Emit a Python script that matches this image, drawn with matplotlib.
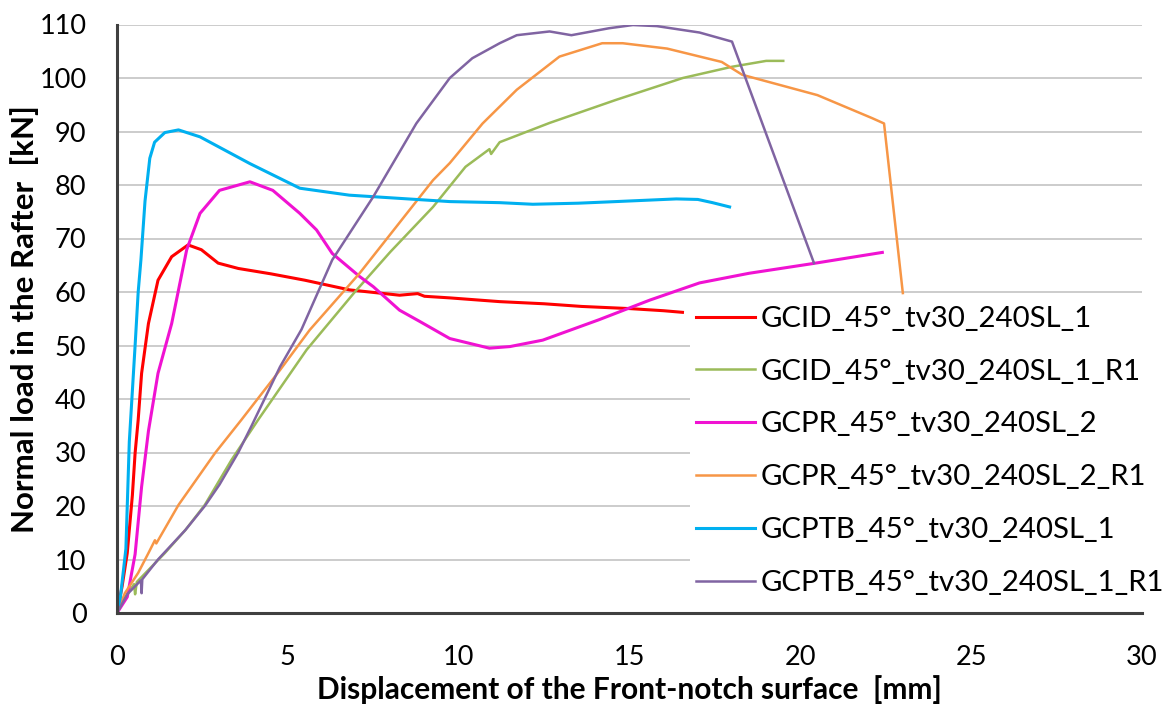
import matplotlib
matplotlib.use("Agg")
import matplotlib.pyplot as plt

plt.rcParams['font.family'] = ['Lato', 'DejaVu Sans']

# ---- data ----
red_x = [0, 0.15, 0.3, 0.45, 0.53, 0.62, 0.72, 0.92, 1.2, 1.6, 2.08, 2.47, 2.96, 3.55, 4.5, 5.5, 6.8, 8.27, 8.8, 9.0, 9.74, 11.2, 12.5, 13.6, 15.0, 16.0, 16.55]
red_y = [0, 5, 11.2, 22, 29.9, 36.1, 44.8, 54.1, 62.2, 66.6, 68.8, 67.9, 65.4, 64.4, 63.4, 62.2, 60.4, 59.4, 59.7, 59.2, 58.9, 58.2, 57.8, 57.3, 56.9, 56.5, 56.2]

green_x = [0, 0.3, 0.5, 0.53, 0.58, 1.4, 2.0, 2.57, 3.35, 4.13, 4.77, 5.55, 6.96, 8.0, 9.25, 10.2, 10.9, 10.95, 11.2, 12.66, 14.6, 16.56, 18.0, 19.0, 19.5]
green_y = [0, 3.5, 5.4, 3.5, 5.8, 11.2, 15.5, 20.2, 28.6, 36.1, 42, 49.2, 60, 67.5, 75.9, 83.4, 86.7, 85.8, 88, 91.6, 95.9, 100, 102.1, 103.2, 103.2]

pink_x = [0, 0.3, 0.53, 0.72, 0.92, 1.2, 1.6, 2.04, 2.43, 3.0, 3.89, 4.56, 5.35, 5.84, 6.3, 7.1, 7.5, 8.27, 8.86, 9.74, 10.9, 11.5, 12.46, 14.1, 15.6, 17.05, 18.5, 20.35, 22.4]
pink_y = [0, 3, 11, 23.6, 34, 44.8, 54.1, 67.9, 74.7, 79, 80.6, 79, 74.7, 71.6, 67.2, 62.9, 61, 56.6, 54.5, 51.3, 49.5, 49.8, 51, 54.8, 58.5, 61.7, 63.5, 65.3, 67.4]

orange_x = [0, 0.23, 0.62, 0.92, 1.11, 1.15, 1.8, 2.87, 3.64, 4.77, 5.64, 7.1, 9.25, 9.74, 10.7, 11.7, 12.95, 14.2, 14.8, 16.1, 17.7, 18.3, 20.5, 22.1, 22.45, 23.0]
orange_y = [0, 3.7, 7.5, 11.2, 13.6, 13.0, 20.2, 29.9, 36.1, 45.4, 52.9, 63.5, 80.9, 84.1, 91.5, 97.8, 104, 106.5, 106.5, 105.5, 103, 100.6, 96.8, 92.5, 91.5, 59.8]

cyan_x = [0, 0.1, 0.26, 0.36, 0.53, 0.62, 0.7, 0.82, 0.96, 1.1, 1.4, 1.8, 2.43, 3.89, 5.35, 6.8, 8.27, 9.74, 11.2, 12.17, 13.5, 14.6, 16.37, 17.0, 17.43, 17.93]
cyan_y = [0, 3, 12, 32, 50, 60, 66, 77, 85, 88, 89.8, 90.3, 89, 84, 79.4, 78.1, 77.5, 76.9, 76.7, 76.4, 76.6, 76.9, 77.4, 77.3, 76.7, 75.9]

purple_x = [0, 0.3, 0.7, 0.72, 0.74, 1.2, 2.0, 2.57, 3.0, 3.55, 3.94, 4.77, 5.4, 6.3, 7.5, 8.76, 9.74, 10.4, 11.2, 11.7, 12.66, 13.3, 14.4, 15.1, 15.8, 17.05, 18.0, 20.4]
purple_y = [0, 3.5, 6.1, 3.7, 6.3, 10, 15.5, 20, 24, 30, 35, 46, 53, 66, 77.8, 91.5, 100, 103.7, 106.5, 108, 108.7, 108, 109.3, 109.9, 109.7, 108.5, 106.8, 65.4]

labels = ["GCID_45°_tv30_240SL_1", "GCID_45°_tv30_240SL_1_R1", "GCPR_45°_tv30_240SL_2",
          "GCPR_45°_tv30_240SL_2_R1", "GCPTB_45°_tv30_240SL_1", "GCPTB_45°_tv30_240SL_1_R1"]
xticks = [0, 5, 10, 15, 20, 25, 30]
yticks = [0, 10, 20, 30, 40, 50, 60, 70, 80, 90, 100, 110]

W, H = 1173, 715
fig = plt.figure(figsize=(W / 100, H / 100), dpi=100)
ax = fig.add_axes([117 / W, 1 - 613 / H, (1142 - 117) / W, (613 - 24.5) / H])

series = [
    (red_x, red_y, "#FF0000", 2.2),
    (green_x, green_y, "#9BBB59", 1.8),
    (pink_x, pink_y, "#F012D2", 2.2),
    (orange_x, orange_y, "#F79646", 1.8),
    (cyan_x, cyan_y, "#00B0F0", 2.2),
    (purple_x, purple_y, "#8064A2", 1.8),
]
for (xs, ys, c, lw), lab in zip(series, labels):
    ax.plot(xs, ys, color=c, lw=lw, label=lab, solid_joinstyle='round')

ax.set_xlim(0, 30)
ax.set_ylim(0, 110)
ax.set_xticks(xticks)
ax.set_yticks(yticks)
ax.grid(axis='y', color='#BFBFBF', lw=1.1)
ax.set_axisbelow(True)
for s in ['top', 'right']:
    ax.spines[s].set_visible(False)
for s in ['left', 'bottom']:
    ax.spines[s].set_color('#404040')
    ax.spines[s].set_linewidth(2.2)
ax.tick_params(axis='both', length=0, labelsize=19.5, colors='#000000')
ax.tick_params(axis='y', pad=22)
ax.tick_params(axis='x', pad=23)

ax.set_xlabel("Displacement of the Front-notch surface  [mm]", fontsize=21.5, fontweight='bold', labelpad=4)
ax.set_ylabel("Normal load in the Rafter  [kN]", fontsize=22.5, fontweight='bold', labelpad=0)

leg = ax.legend(loc='upper left', bbox_to_anchor=(690 / W, 1 - 300 / H),
                bbox_transform=fig.transFigure, frameon=True, fontsize=21.2,
                handlelength=2.0, handletextpad=0.2, labelspacing=0.91,
                borderpad=0.2, borderaxespad=0, fancybox=False)
leg.get_frame().set_facecolor('white')
leg.get_frame().set_edgecolor('none')
leg.get_frame().set_alpha(1)

fig.savefig("out.png", dpi=100)
